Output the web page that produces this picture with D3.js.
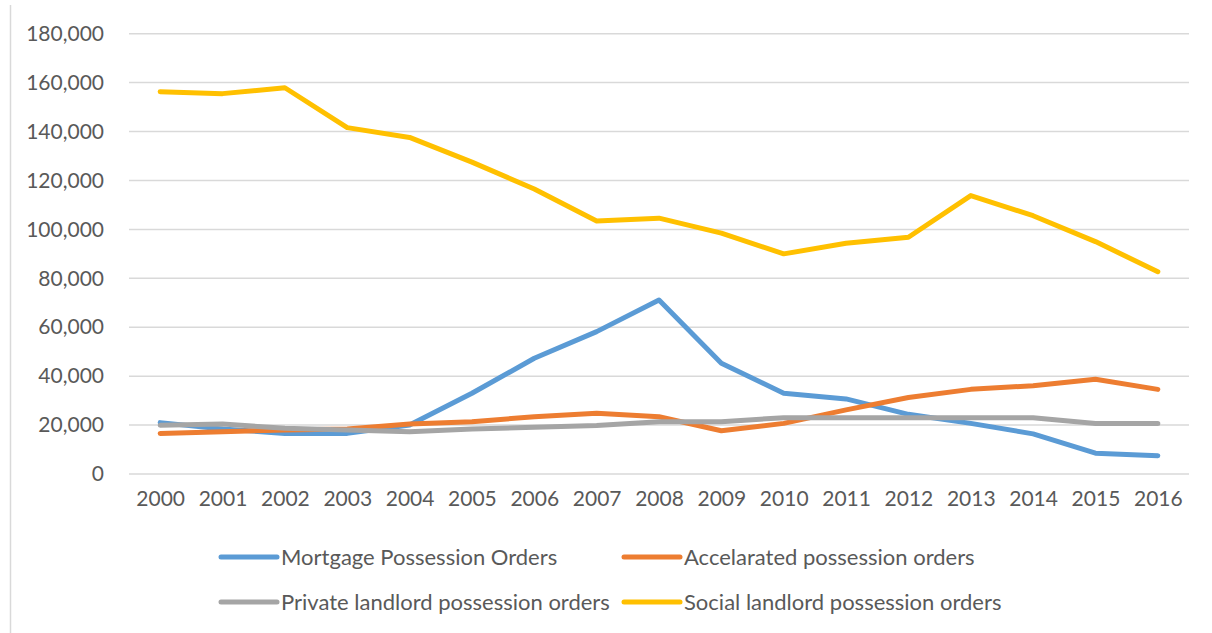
<!DOCTYPE html>
<html>
<head>
<meta charset="utf-8">
<script src="https://cdn.jsdelivr.net/npm/d3@7"></script>
<style>
  body { margin: 0; background: #fff; }
  text { font-family: Lato, "Open Sans", sans-serif; fill: #595959; }
</style>
</head>
<body>
<script>
// data
let years = ["2000","2001","2002","2003","2004","2005","2006","2007","2008","2009","2010","2011","2012","2013","2014","2015","2016"];
let mortgage = [21000,18400,16600,16600,20000,33000,47300,58200,71100,45300,33000,30700,24400,20700,16400,8500,7500];
let accelerated = [16600,17300,18000,18400,20400,21400,23400,24800,23400,17700,20700,26200,31300,34600,36100,38700,34600];
let privateLandlord = [19900,20400,18700,18000,17300,18400,19100,19800,21400,21400,23000,23000,23000,23000,23000,20600,20600];
let socialLandlord = [156300,155500,157900,141600,137600,127500,116500,103400,104600,98500,90000,94300,96800,113800,105600,95000,82700];
let yTicks = [0,20000,40000,60000,80000,100000,120000,140000,160000,180000];
let seriesNames = ["Mortgage Possession Orders","Accelarated possession orders","Private landlord possession orders","Social landlord possession orders"];
let seriesColors = ["#5B9BD5","#ED7D31","#A5A5A5","#FFC000"];

let w = 1212, h = 633;
let series = [mortgage, accelerated, privateLandlord, socialLandlord];

let svg = d3.select("body").append("svg").attr("width", w).attr("height", h);

// chart area border (only the left edge shows)
svg.append("line").attr("x1", 10.5).attr("x2", 10.5).attr("y1", 5).attr("y2", h)
  .attr("stroke", "#D9D9D9").attr("stroke-width", 1.5);

let x = d3.scalePoint().domain(years).range([129, 1189]).padding(0.5);
let y = d3.scaleLinear().domain([0, 180000]).range([474, 33.7]);

// gridlines
svg.append("g").selectAll("line").data(yTicks).enter().append("line")
  .attr("x1", 129).attr("x2", 1189)
  .attr("y1", d => y(d)).attr("y2", d => y(d))
  .attr("stroke", "#D9D9D9").attr("stroke-width", 1.5);

// y axis labels
let yAxis = d3.axisLeft(y).tickValues(yTicks).tickSize(0).tickPadding(0)
  .tickFormat(d3.format(","));
svg.append("g").attr("transform", "translate(104,0)").call(yAxis)
  .call(g => g.select(".domain").remove())
  .selectAll("text").style("font-family", "Lato, sans-serif").style("font-size", "21px").attr("fill", "#595959");

// x axis labels
let xAxis = d3.axisBottom(x).tickSize(0).tickPadding(0);
svg.append("g").attr("transform", "translate(0,491)").call(xAxis)
  .call(g => g.select(".domain").remove())
  .selectAll("text").style("font-family", "Lato, sans-serif").style("font-size", "21px").attr("fill", "#595959");

let line = d3.line().x((d, i) => x(years[i])).y(d => y(d));

svg.append("g").selectAll("path").data(series).enter().append("path")
  .attr("d", line)
  .attr("fill", "none")
  .attr("stroke", (d, i) => seriesColors[i])
  .attr("stroke-width", 5)
  .attr("stroke-linejoin", "round")
  .attr("stroke-linecap", "round");

// legend
let legendX = [221, 624], legendY = [557, 602];
let leg = svg.append("g").selectAll("g").data(seriesNames).enter().append("g")
  .attr("transform", (d, i) => "translate(" + legendX[i % 2] + "," + legendY[Math.floor(i / 2)] + ")");
leg.append("line").attr("x1", 0).attr("x2", 56).attr("y1", 0).attr("y2", 0)
  .attr("stroke", (d, i) => seriesColors[i]).attr("stroke-width", 5).attr("stroke-linecap", "round");
leg.append("text").attr("x", 60).attr("dy", "0.35em").style("font-size", "22px").text(d => d);
</script>
</body>
</html>
